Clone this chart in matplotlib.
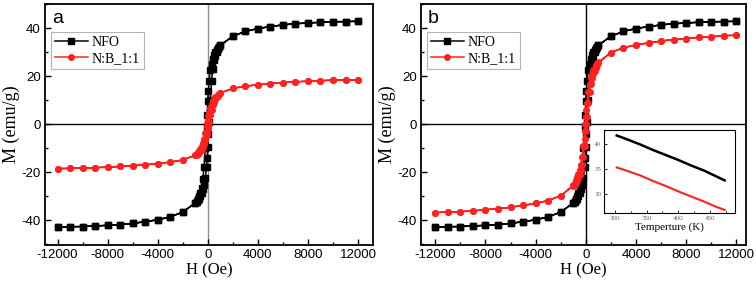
import matplotlib
matplotlib.use("Agg")
import matplotlib.pyplot as plt
from matplotlib.ticker import MultipleLocator

# Field values (Oe), descending branch: +12000 -> -12000
H_desc = [12000, 11000, 10000, 9000, 8000, 7000, 6000, 5000, 4000, 3000, 2000, 1000,
          900, 800, 700, 600, 500, 400, 300, 200, 100, 50, 0, -50, -100, -200, -300,
          -400, -500, -600, -700, -800, -900, -1000, -2000, -3000, -4000, -5000, -6000,
          -7000, -8000, -9000, -10000, -11000, -12000]
# ascending branch: -12000 -> +12000
H_asc = [-12000, -11000, -10000, -9000, -8000, -7000, -6000, -5000, -4000, -3000, -2000, -1000,
         -900, -800, -700, -600, -500, -400, -300, -200, -100, -50, 0, 50, 100, 200, 300,
         400, 500, 600, 700, 800, 900, 1000, 2000, 3000, 4000, 5000, 6000,
         7000, 8000, 9000, 10000, 11000, 12000]

# NFO (same in both panels)
nfo_desc = [42.8, 42.7, 42.6, 42.4, 42.1, 41.8, 41.3, 40.6, 39.8, 38.6, 36.6, 32.8,
            32.3, 31.7, 31.0, 30.0, 28.8, 27.2, 25.2, 22.5, 18.0, 14.0, 9.5, 4.0, -1.0, -10.0, -18.0,
            -23.0, -26.5, -28.5, -30.0, -31.2, -32.0, -32.8, -36.6, -38.6, -39.8, -40.6, -41.3,
            -41.8, -42.1, -42.4, -42.6, -42.7, -42.8]
nfo_asc = [-42.8, -42.7, -42.6, -42.4, -42.1, -41.8, -41.3, -40.6, -39.8, -38.6, -36.6, -32.8,
           -32.3, -31.7, -31.0, -30.0, -28.8, -27.2, -25.2, -22.5, -18.0, -14.0, -9.5, -4.0, 1.0, 10.0, 18.0,
           23.0, 26.5, 28.5, 30.0, 31.2, 32.0, 32.8, 36.6, 38.6, 39.8, 40.6, 41.3,
           41.8, 42.1, 42.4, 42.6, 42.7, 42.8]

# N:B_1:1 panel a
nb_a_desc = [18.5, 18.4, 18.3, 18.1, 17.9, 17.6, 17.3, 16.9, 16.4, 15.8, 14.9, 13.0,
             12.7, 12.3, 11.9, 11.3, 10.6, 9.6, 8.4, 6.7, 4.5, 3.2, 1.8, 0.5, -1.0, -3.8, -6.0,
             -7.8, -9.2, -10.3, -11.1, -11.8, -12.4, -12.9, -14.9, -15.8, -16.4, -16.9, -17.3,
             -17.6, -17.9, -18.1, -18.3, -18.4, -18.5]
nb_a_asc = [-18.5, -18.4, -18.3, -18.1, -17.9, -17.6, -17.3, -16.9, -16.4, -15.8, -14.9, -13.0,
            -12.7, -12.3, -11.9, -11.3, -10.6, -9.6, -8.4, -6.7, -4.5, -3.2, -1.8, -0.5, 1.0, 3.8, 6.0,
            7.8, 9.2, 10.3, 11.1, 11.8, 12.4, 12.9, 14.9, 15.8, 16.4, 16.9, 17.3,
            17.6, 17.9, 18.1, 18.3, 18.4, 18.5]

# N:B_1:1 panel b
nb_b_desc = [37.0, 36.8, 36.4, 36.1, 35.6, 35.2, 34.6, 33.8, 33.0, 31.8, 29.8, 25.8,
             25.2, 24.5, 23.5, 22.4, 21.0, 19.2, 16.8, 13.5, 9.0, 6.0, 3.0, 0.0, -3.0, -9.0, -13.5,
             -16.8, -19.0, -20.8, -22.2, -23.4, -24.5, -25.4, -29.8, -31.8, -33.0, -33.8, -34.6,
             -35.2, -35.6, -36.1, -36.4, -36.6, -36.8]
nb_b_asc = [-36.8, -36.6, -36.4, -36.1, -35.6, -35.2, -34.6, -33.8, -33.0, -31.8, -29.8, -25.8,
            -25.2, -24.5, -23.5, -22.4, -21.0, -19.2, -16.8, -13.5, -9.0, -6.0, -3.0, 0.0, 3.0, 9.0, 13.5,
            16.8, 19.0, 20.8, 22.2, 23.4, 24.5, 25.4, 29.8, 31.8, 33.0, 33.8, 34.6,
            35.2, 35.6, 36.1, 36.4, 36.8, 37.0]

# inset: M vs temperature
T_inset = [303, 320, 340, 360, 380, 400, 420, 440, 460, 473]
nfo_T = [41.7, 40.9, 39.9, 38.8, 37.8, 36.8, 35.7, 34.7, 33.5, 32.7]
nb_T = [35.3, 34.6, 33.7, 32.6, 31.6, 30.5, 29.5, 28.5, 27.4, 26.8]

xticks = [-12000, -8000, -4000, 0, 4000, 8000, 12000]
yticks = [-40, -20, 0, 20, 40]

SANS = ["Liberation Sans", "DejaVu Sans"]
SERIF = ["Liberation Serif", "DejaVu Serif"]

fig = plt.figure(figsize=(7.56, 2.82), dpi=100)

def panel(rect, nb_desc, nb_asc, label, vcolor, xlim):
    ax = fig.add_axes(rect)
    ax.axhline(0, color="black", lw=1.0, zorder=1)
    ax.axvline(0, color=vcolor, lw=1.0, zorder=1)
    ax.plot(H_desc + H_asc, nfo_desc + nfo_asc, color="black", marker="s", ms=3.8,
            lw=1.1, label="NFO", zorder=3)
    ax.plot(H_desc + H_asc, nb_desc + nb_asc, color="#ff2020", marker="o", ms=4.0,
            lw=1.1, label="N:B_1:1", zorder=4)
    ax.set_xlim(*xlim)
    ax.set_ylim(-50.3, 50)
    ax.set_xticks(xticks)
    ax.set_xticklabels([str(v) for v in xticks], family=SANS, fontsize=9.5)
    ax.set_yticks(yticks)
    ax.set_yticklabels([str(v) for v in yticks], family=SANS, fontsize=9.5)
    ax.xaxis.set_minor_locator(MultipleLocator(2000))
    ax.yaxis.set_minor_locator(MultipleLocator(10))
    ax.tick_params(which="major", direction="in", length=4, width=1.0, pad=3)
    ax.tick_params(which="minor", direction="in", length=2.5, width=1.0)
    for s in ax.spines.values():
        s.set_linewidth(1.3)
    ax.set_xlabel("H (Oe)", family=SERIF, fontsize=12, labelpad=1)
    ax.set_ylabel("M (emu/g)", family=SERIF, fontsize=13, labelpad=1)
    ax.text(0.022, 0.975, label, transform=ax.transAxes, family=SANS, fontsize=14,
            va="top", ha="left")
    leg = ax.legend(loc="upper left", bbox_to_anchor=(0.01, 0.895), prop={"family": SERIF, "size": 10},
                    frameon=True, fancybox=False, edgecolor="#a0a0a0", handlelength=2.4,
                    handletextpad=0.3, borderpad=0.25, labelspacing=0.25, borderaxespad=0.2)
    leg.get_frame().set_linewidth(0.8)
    return ax

axa = panel([0.0595, 0.1312, 0.434, 0.8546], nb_a_desc, nb_a_asc, "a", "#909090", (-13000, 13200))
axb = panel([0.5569, 0.1312, 0.430, 0.8546], nb_b_desc, nb_b_asc, "b", "black", (-13140, 12780))

ins = fig.add_axes([0.799, 0.245, 0.173, 0.294])
ins.plot(T_inset, nfo_T, color="black", lw=1.8)
ins.plot(T_inset, nb_T, color="#ff2020", lw=1.5)
ins.set_xlim(283, 489)
ins.set_ylim(26.2, 42.8)
ins.set_xticks([300, 350, 400, 450])
ins.set_yticks([30, 35, 40])
ins.xaxis.set_minor_locator(MultipleLocator(25))
ins.tick_params(which="major", direction="in", length=2.5, width=0.6, labelsize=5,
                labelcolor="#666666", pad=2)
ins.tick_params(which="minor", direction="in", length=1.5, width=0.6)
for t in ins.get_xticklabels() + ins.get_yticklabels():
    t.set_family(SERIF)
for s in ins.spines.values():
    s.set_linewidth(0.8)
ins.set_xlabel("Temperture (K)", family=SERIF, fontsize=8, labelpad=1)

fig.savefig("out.png", dpi=100)
